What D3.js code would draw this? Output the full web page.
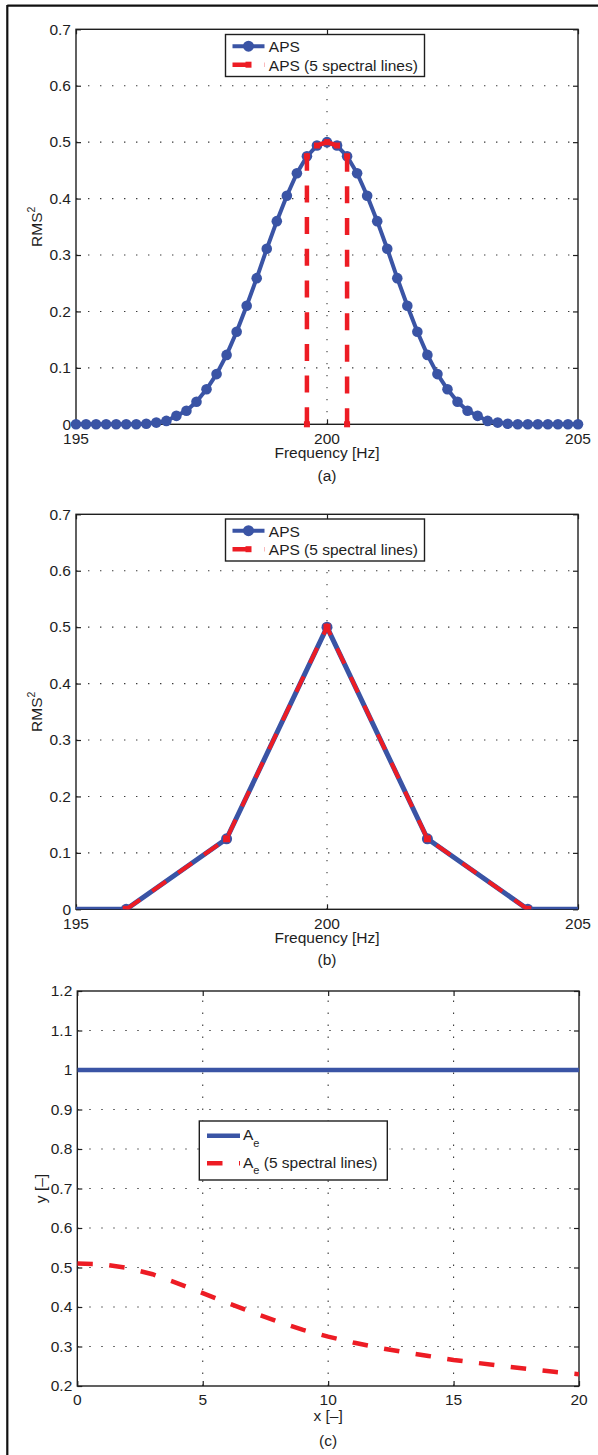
<!DOCTYPE html>
<html><head><meta charset="utf-8">
<script src="https://cdn.jsdelivr.net/npm/d3@7"></script>
<style>
html,body{margin:0;padding:0;background:#fff;}
svg{display:block;font-family:"Liberation Sans",Arial,Helvetica,sans-serif;}
</style></head><body>
<svg id="chart" width="598" height="1455"></svg>
<script>
// ---------- data ----------
const freqA = [195,195.2,195.4,195.6,195.8,196,196.2,196.4,196.6,196.8,197,197.2,197.4,197.6,197.8,198,198.2,198.4,198.6,198.8,199,199.2,199.4,199.6,199.8,200,
  200.2,200.4,200.6,200.8,201,201.2,201.4,201.6,201.8,202,202.2,202.4,202.6,202.8,203,203.2,203.4,203.6,203.8,204,204.2,204.4,204.6,204.8,205];
const apsA = [0,0,0,0,0,0,0,0.001,0.003,0.006,0.015,0.024,0.04,0.062,0.089,0.123,0.164,0.21,0.259,0.311,0.36,0.405,0.445,0.475,0.494,0.5,
  0.494,0.475,0.445,0.405,0.36,0.311,0.259,0.21,0.164,0.123,0.089,0.062,0.04,0.024,0.015,0.006,0.003,0.001,0,0,0,0,0,0,0];
const freqA5 = [199.6,199.6,199.8,200,200.2,200.4,200.4];
const apsA5 = [0,0.475,0.494,0.5,0.494,0.475,0];
const freqB = [194,196,198,200,202,204,206];
const apsB = [0,0,0.125,0.5,0.125,0,0];
const freqB5 = [196,198,200,202,204];
const apsB5 = [0,0.125,0.5,0.125,0];
const xC = [0,20];
const aeC = [1,1];
const xC5 = [0,1,2,3,4,5,6,7,8,9,10,11,12,13,14,15,16,17,18,19,20];
const aeC5 = [0.51,0.508,0.499,0.483,0.46,0.435,0.41,0.386,0.363,0.342,0.325,0.31,0.297,0.286,0.276,0.266,0.258,0.25,0.243,0.236,0.23];
const freqTicks = [195,200,205];
const rmsTicks = [0,0.1,0.2,0.3,0.4,0.5,0.6,0.7];
const xTicksC = [0,5,10,15,20];
const yTicksC = [0.2,0.3,0.4,0.5,0.6,0.7,0.8,0.9,1,1.1,1.2];
const legendAB = ["APS","APS (5 spectral lines)"];
const legendC = ["A","e"," (5 spectral lines)"];

// ---------- style ----------
const BLUE = "#3a54a5", RED = "#ed1c24", INK = "#1e1e1e";
const FS = 15.5;
const svg = d3.select("#chart");

// outer frame
svg.append("line").attr("x1",7.3).attr("x2",598).attr("y1",5.7).attr("y2",5.7).attr("stroke","#111").attr("stroke-width",2.2);
svg.append("line").attr("x1",7.3).attr("x2",7.3).attr("y1",5).attr("y2",1455).attr("stroke","#111").attr("stroke-width",2.2);

function fmt(v){ return String(+v.toFixed(1)); }

function makePanel(cfg){
  const x = d3.scaleLinear().domain(cfg.xd).range([cfg.l, cfg.r]);
  const y = d3.scaleLinear().domain(cfg.yd).range([cfg.b, cfg.t]);
  const g = svg.append("g");
  // grid
  const grid = g.append("g").attr("stroke","#3a3a3a").attr("stroke-width",1.1).attr("stroke-dasharray","1.4,10.6");
  cfg.yt.filter(v=>v>cfg.yd[0] && v<cfg.yd[1]).forEach(v=>{
    grid.append("line").attr("x1",cfg.l).attr("x2",cfg.r).attr("y1",y(v)).attr("y2",y(v));
  });
  cfg.xt.filter(v=>v>cfg.xd[0] && v<cfg.xd[1]).forEach(v=>{
    grid.append("line").attr("x1",x(v)).attr("x2",x(v)).attr("y1",cfg.b).attr("y2",cfg.t);
  });
  // box
  g.append("rect").attr("x",cfg.l).attr("y",cfg.t).attr("width",cfg.r-cfg.l).attr("height",cfg.b-cfg.t)
    .attr("fill","none").attr("stroke",INK).attr("stroke-width",1.4);
  // axes via d3 (ticks inward) on all 4 sides
  const ax = [
    [d3.axisBottom(x).tickValues(cfg.xt).tickSize(-5).tickFormat(""), `translate(0,${cfg.b})`],
    [d3.axisTop(x).tickValues(cfg.xt).tickSize(-5).tickFormat(""), `translate(0,${cfg.t})`],
    [d3.axisLeft(y).tickValues(cfg.yt).tickSize(-5).tickFormat(""), `translate(${cfg.l},0)`],
    [d3.axisRight(y).tickValues(cfg.yt).tickSize(-5).tickFormat(""), `translate(${cfg.r},0)`]
  ];
  ax.forEach(([a,tr])=>{
    const ag = g.append("g").attr("transform",tr).call(a);
    ag.select(".domain").remove();
    ag.selectAll("line").attr("stroke",INK).attr("stroke-width",1.2);
  });
  // tick labels
  const lab = g.append("g").attr("font-size",FS).attr("fill",INK);
  cfg.xt.forEach(v=>{
    lab.append("text").attr("x",x(v)).attr("y",cfg.b+cfg.xtlDy).attr("text-anchor","middle").text(fmt(v));
  });
  cfg.yt.forEach(v=>{
    lab.append("text").attr("x",cfg.l-5).attr("y",y(v)+5.2).attr("text-anchor","end").text(fmt(v));
  });
  // x label
  lab.append("text").attr("x",(cfg.l+cfg.r)/2).attr("y",cfg.b+cfg.xlDy).attr("text-anchor","middle").text(cfg.xlabel);
  lab.append("text").attr("x",(cfg.l+cfg.r)/2).attr("y",cfg.b+cfg.capDy).attr("text-anchor","middle").text(cfg.caption);
  // y label
  const yl = lab.append("text").attr("transform",`translate(${cfg.ylx},${(cfg.t+cfg.b)/2}) rotate(-90)`).attr("text-anchor","middle");
  if(cfg.ysup){
    yl.append("tspan").text(cfg.ylabel);
    yl.append("tspan").attr("font-size",10.5).attr("dy",-6.5).text(cfg.ysup);
  } else yl.text(cfg.ylabel);
  // clip
  const id = "clip"+cfg.name;
  svg.append("clipPath").attr("id",id).append("rect").attr("x",cfg.l).attr("y",cfg.t).attr("width",cfg.r-cfg.l).attr("height",cfg.b-cfg.t);
  return {x,y,g,clip:`url(#${id})`};
}

function squares(g, xs, ys, x, y, s){
  g.selectAll(null).data(xs).enter().append("rect")
    .attr("x",(d,i)=>x(xs[i])-s/2).attr("y",(d,i)=>y(ys[i])-s/2)
    .attr("width",s).attr("height",s).attr("fill",RED);
}
function circles(g, xs, ys, x, y, r){
  g.selectAll(null).data(xs).enter().append("circle")
    .attr("cx",(d,i)=>x(xs[i])).attr("cy",(d,i)=>y(ys[i])).attr("r",r).attr("fill",BLUE);
}
function pathOf(xs, ys, x, y){
  return d3.line().x((d,i)=>x(xs[i])).y((d,i)=>y(ys[i]))(xs);
}

function legendAPS(top){
  const L = 225.5, W = 199, H = 42;
  const g = svg.append("g");
  g.append("rect").attr("x",L).attr("y",top).attr("width",W).attr("height",H).attr("fill","#fff").attr("stroke",INK).attr("stroke-width",1.4);
  const y1 = top+11.7, y2 = top+30.2;
  g.append("line").attr("x1",232.5).attr("x2",264.5).attr("y1",y1).attr("y2",y1).attr("stroke",BLUE).attr("stroke-width",4);
  g.append("circle").attr("cx",248.5).attr("cy",y1).attr("r",5.5).attr("fill",BLUE);
  g.append("line").attr("x1",232.5).attr("x2",264.5).attr("y1",y2).attr("y2",y2).attr("stroke",RED).attr("stroke-width",4.5).attr("stroke-dasharray","17,14.7");
  g.append("rect").attr("x",245.5).attr("y",y2-3).attr("width",6).attr("height",6).attr("fill",RED);
  g.append("text").attr("x",268.8).attr("y",y1+6).attr("font-size",FS).attr("fill",INK).text(legendAB[0]);
  g.append("text").attr("x",268.8).attr("y",y2+6).attr("font-size",FS).attr("fill",INK).text(legendAB[1]);
}

// ---------- panel (a) ----------
const pa = makePanel({name:"a", l:76, r:578, t:29.3, b:424.3, xd:[195,205], yd:[0,0.7], xt:freqTicks, yt:rmsTicks,
  xtlDy:19.5, xlDy:34, capDy:57, xlabel:"Frequency [Hz]", caption:"(a)", ylabel:"RMS", ysup:"2", ylx:41.5});
pa.g.append("path").attr("d",pathOf(freqA,apsA,pa.x,pa.y)).attr("fill","none").attr("stroke",BLUE).attr("stroke-width",4).attr("stroke-linejoin","round");
circles(pa.g, freqA, apsA, pa.x, pa.y, 5.3);
pa.g.append("path").attr("d",pathOf(freqA5,apsA5,pa.x,pa.y)).attr("fill","none").attr("stroke",RED).attr("stroke-width",4.5).attr("stroke-dasharray","17,14.7");
squares(pa.g, freqA5, apsA5, pa.x, pa.y, 6);
legendAPS(34.5);

// ---------- panel (b) ----------
const pb = makePanel({name:"b", l:76, r:578, t:514.3, b:909.3, xd:[195,205], yd:[0,0.7], xt:freqTicks, yt:rmsTicks,
  xtlDy:19.5, xlDy:34, capDy:55.5, xlabel:"Frequency [Hz]", caption:"(b)", ylabel:"RMS", ysup:"2", ylx:41.5});
const gb = pb.g.append("g").attr("clip-path",pb.clip);
gb.append("path").attr("d",pathOf(freqB,apsB,pb.x,pb.y)).attr("fill","none").attr("stroke",BLUE).attr("stroke-width",5).attr("stroke-linejoin","round");
circles(gb, freqB, apsB, pb.x, pb.y, 5.5);
gb.append("path").attr("d",pathOf(freqB5,apsB5,pb.x,pb.y)).attr("fill","none").attr("stroke",RED).attr("stroke-width",4).attr("stroke-dasharray","17,14.7");
squares(gb, freqB5, apsB5, pb.x, pb.y, 7);
legendAPS(519);

// ---------- panel (c) ----------
const pc = makePanel({name:"c", l:77.3, r:579, t:991, b:1386, xd:[0,20], yd:[0.2,1.2], xt:xTicksC, yt:yTicksC,
  xtlDy:18.5, xlDy:35, capDy:59.5, xlabel:"x [\u2013]", caption:"(c)", ylabel:"y [\u2013]", ylx:46});
const gc = pc.g.append("g").attr("clip-path",pc.clip);
gc.append("path").attr("d",pathOf(xC,aeC,pc.x,pc.y)).attr("fill","none").attr("stroke",BLUE).attr("stroke-width",4.5);
gc.append("path").attr("d",pathOf(xC5,aeC5,pc.x,pc.y)).attr("fill","none").attr("stroke",RED).attr("stroke-width",4.5).attr("stroke-dasharray","15.5,16.5");
(function(){
  const g = svg.append("g");
  g.append("rect").attr("x",199.3).attr("y",1121).attr("width",188).attr("height",59).attr("fill","#fff").attr("stroke",INK).attr("stroke-width",1.4);
  const y1 = 1135.7, y2 = 1163.3;
  g.append("line").attr("x1",207).attr("x2",240).attr("y1",y1).attr("y2",y1).attr("stroke",BLUE).attr("stroke-width",4.5);
  g.append("line").attr("x1",207).attr("x2",240).attr("y1",y2).attr("y2",y2).attr("stroke",RED).attr("stroke-width",4.5).attr("stroke-dasharray","15.5,16.5");
  [y1,y2].forEach((yy,k)=>{
    const t = g.append("text").attr("x",243).attr("y",yy+4.5).attr("font-size",FS).attr("fill",INK);
    t.append("tspan").text(legendC[0]);
    t.append("tspan").attr("font-size",11).attr("dy",6.5).text(legendC[1]);
    if(k===1) t.append("tspan").attr("dy",-6.5).text(legendC[2]);
  });
})();
</script>
</body></html>
